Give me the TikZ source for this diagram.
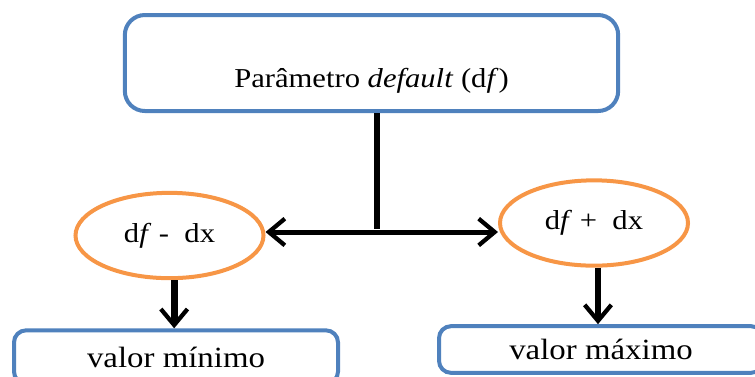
\documentclass[tikz,border=0pt]{standalone}
\usepackage{fontspec}
\setmainfont{Liberation Serif}[FakeStretch=1.12]
\usetikzlibrary{arrows.meta,shapes.geometric}
\definecolor{cblue}{HTML}{4F81BD}
\definecolor{corange}{HTML}{F79646}
\tikzset{
  every picture/.style={font=\fontsize{20.5}{24}\selectfont},
  bx/.style={draw=cblue,line width=3pt,fill=white,rounded corners=9pt,align=center,inner sep=0pt},
  bxt/.style={bx,rounded corners=15pt,minimum width=370pt,minimum height=72pt},
  bxb/.style={bx,minimum width=243pt,minimum height=35pt,font=\fontsize{22}{26}\selectfont},
  ell/.style={ellipse,draw=corange,line width=3pt,fill=white,minimum width=141pt,minimum height=64pt,inner sep=0pt},
  tip/.style={-{Straight Barb[length=12pt,width=20pt,line width=3.2pt]}},
  hln/.style={line width=3.75pt,tip},
  vln/.style={line width=5pt,tip},
}

\begin{document}
\begin{tikzpicture}[x=0.75pt,y=-0.75pt]
  \useasboundingbox (0,0) rectangle (755,376);
  \clip (0,0) rectangle (755,376);
  \node[bxt] (par) at (371.5,63) {\strut\\Parâmetro \textit{default} (d\textit{f})};
  \node[ell] (lo) at (169.5,235.5) {d\textit{f} -\ \ dx};
  \node[ell] (hi) at (594,223) {d\textit{f} +\ \ dx};
  \node[bxb,minimum height=40pt] (mn) at (176,357) {valor mínimo};
  \node[bxb] (mx) at (601,349.5) {valor máximo};
  \coordinate (j) at (377,232);
  \draw[line width=5pt] (par.south -| j) -- ([yshift=1.9pt]j);
  \draw[hln] ([xshift=1pt]j) -- (j -| lo.east);
  \draw[hln] ([xshift=-1pt]j) -- (j -| hi.west);
  \draw[vln] ([xshift=3.5pt]lo.south) -- ([xshift=3.5pt]lo.south |- mn.north);
  \draw[vln] ([xshift=3pt]hi.south) -- ([xshift=3pt]hi.south |- mx.north);
\end{tikzpicture}
\end{document}
